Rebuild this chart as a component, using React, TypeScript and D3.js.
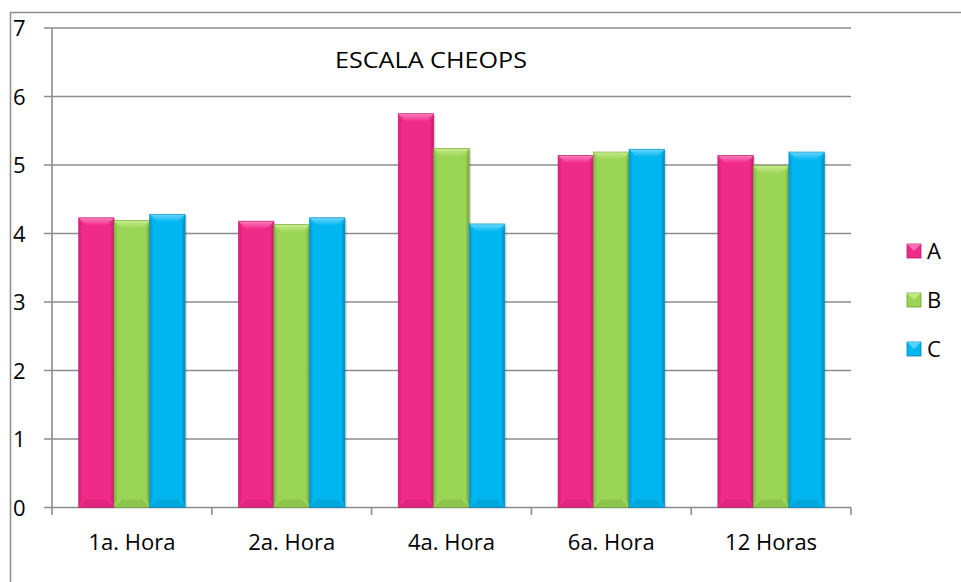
import React from "react";
import * as d3 from "d3";

const categories = ["1a. Hora", "2a. Hora", "4a. Hora", "6a. Hora", "12 Horas"];
const seriesNames = ["A", "B", "C"];
const valuesA = [4.23, 4.18, 5.75, 5.14, 5.14];
const valuesB = [4.19, 4.13, 5.24, 5.19, 4.99];
const valuesC = [4.28, 4.23, 4.14, 5.23, 5.19];
const yTicks = [0, 1, 2, 3, 4, 5, 6, 7];
const title = "ESCALA CHEOPS";

const W = 961;
const H = 582;
const left = 52;
const right = 851;
const top = 28;
const bottom = 507.5;

const colors = [
  { base: "#F02A88", light: "#FF7FC0", dark: "#B81C66" },
  { base: "#9BD556", light: "#C8EC8E", dark: "#6E9E34" },
  { base: "#00B6F0", light: "#6AD8FF", dark: "#0084B4" },
];

const font = "'Open Sans', sans-serif";

function Bar({ x, y, w, h, ci, id }: { x: number; y: number; w: number; h: number; ci: number; id: string }) {
  const c = colors[ci];
  const b = Math.min(8, h / 2);
  return (
    <g>
      <rect x={x + 2} y={y + 2} width={w} height={h - 2} fill="#000" opacity={0.12} />
      <rect x={x} y={y} width={w} height={h} fill={c.base} />
      <polygon
        points={`${x},${y} ${x + w},${y} ${x + w - b},${y + b} ${x + b},${y + b}`}
        fill={`url(#top${id})`}
      />
      <polygon
        points={`${x},${y} ${x + b * 0.35},${y + b} ${x + b * 0.35},${y + h - b} ${x},${y + h}`}
        fill={c.dark}
        opacity={0.35}
      />
      <polygon
        points={`${x + w},${y} ${x + w - b * 0.35},${y + b} ${x + w - b * 0.35},${y + h - b} ${x + w},${y + h}`}
        fill={c.dark}
        opacity={0.55}
      />
      <polygon
        points={`${x},${y + h} ${x + b},${y + h - b} ${x + w - b},${y + h - b} ${x + w},${y + h}`}
        fill={c.dark}
        opacity={0.3}
      />
      <rect x={x} y={y} width={w} height={h} fill="none" stroke={c.dark} strokeWidth={0.8} opacity={0.7} />
    </g>
  );
}

export default function App() {
  const x0 = d3.scaleBand<string>().domain(categories).range([left, right]).paddingInner(0).paddingOuter(0);
  const groupW = x0.bandwidth() * (3 / 4.5);
  const x1 = d3
    .scaleBand<string>()
    .domain(seriesNames)
    .range([0, groupW])
    .padding(0);
  const y = d3.scaleLinear().domain([0, 7]).range([bottom, top]);
  const series = [valuesA, valuesB, valuesC];

  return (
    <svg width={W} height={H} style={{ position: "absolute", left: 0, top: 0 }} fontFamily={font}>
      <defs>
        {colors.map((c, i) => (
          <linearGradient key={i} id={`top${i}`} x1="0" y1="0" x2="0" y2="1">
            <stop offset="0" stopColor={c.light} />
            <stop offset="1" stopColor={c.base} />
          </linearGradient>
        ))}
      </defs>
      <rect x={0} y={0} width={W} height={H} fill="#fff" />
      <path d={`M10.5,${H} V12.5 H${W}`} fill="none" stroke="#8c8c8c" strokeWidth={1.5} />
      {yTicks.map((t) => (
        <g key={t}>
          <line x1={44} x2={right} y1={y(t)} y2={y(t)} stroke="#8c8c8c" strokeWidth={1.6} />
          <text x={13} y={y(t) + 8} fontSize={22} fill="#000">
            {t}
          </text>
        </g>
      ))}
      <line x1={left} x2={left} y1={top} y2={515} stroke="#8c8c8c" strokeWidth={1.6} />
      {categories.map((c, i) => (
        <line key={c} x1={x0(c)! + x0.bandwidth()} x2={x0(c)! + x0.bandwidth()} y1={bottom} y2={515} stroke="#8c8c8c" strokeWidth={1.6} />
      ))}
      {categories.map((c, i) => {
        const gx = x0(c)! + (x0.bandwidth() - groupW) / 2;
        return (
          <g key={c}>
            {series.map((s, si) => (
              <Bar
                key={si}
                id={String(si)}
                ci={si}
                x={gx + x1(seriesNames[si])!}
                y={y(s[i])}
                w={x1.bandwidth()}
                h={bottom - y(s[i])}
              />
            ))}
            <text x={x0(c)! + x0.bandwidth() / 2} y={550} fontSize={22} textAnchor="middle" fill="#000">
              {c}
            </text>
          </g>
        );
      })}
      <text x={335} y={68} fontSize={22} fill="#000" textLength={192} lengthAdjust="spacingAndGlyphs">
        {title}
      </text>
      {seriesNames.map((n, i) => {
        const cy = 251 + i * 49;
        const c = colors[i];
        const s = 14;
        const sx = 907;
        const sy = cy - s / 2;
        return (
          <g key={n}>
            <rect x={sx} y={sy} width={s} height={s} fill={c.base} stroke={c.dark} strokeWidth={0.8} />
            <polygon points={`${sx},${sy} ${sx + s},${sy} ${sx + s / 2},${sy + s / 2}`} fill={c.light} opacity={0.8} />
            <text x={927} y={cy + 8} fontSize={22} fill="#000">
              {n}
            </text>
          </g>
        );
      })}
    </svg>
  );
}
